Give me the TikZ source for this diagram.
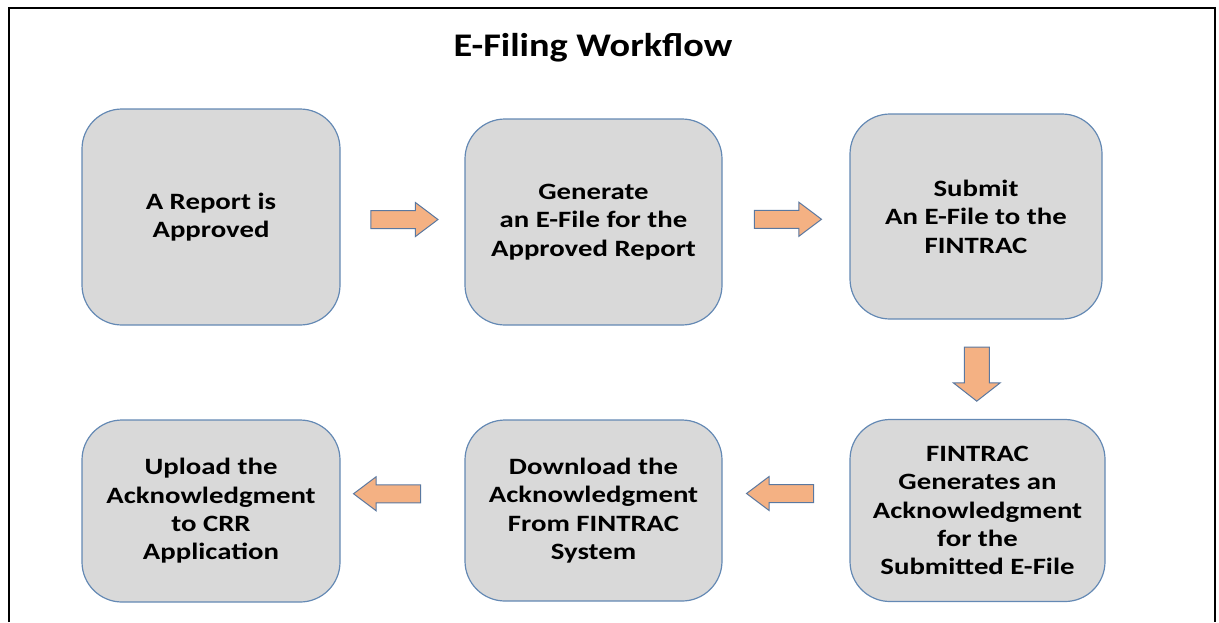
\documentclass[tikz,border=0pt]{standalone}
\usepackage{fontspec}
\setmainfont{Carlito}
\newfontfamily\boxfont[FakeStretch=1.23]{Carlito}
\newfontfamily\titlefont[FakeStretch=1.16]{Carlito}
\usetikzlibrary{calc,shapes.arrows}

\definecolor{boxgray}{RGB}{217,217,217}
\definecolor{boxblue}{RGB}{100,137,180}
\definecolor{arrowfill}{RGB}{244,177,131}
\definecolor{arrowline}{RGB}{90,120,160}

\tikzset{
  stepbox/.style={draw=boxblue,line width=0.6pt,fill=boxgray,rounded corners=20pt,
    align=center,font=\boxfont\fontsize{11.7}{14.2}\selectfont\bfseries,inner sep=0pt},
  flowarrow/.style={single arrow,draw=arrowline,line width=0.5pt,fill=arrowfill,
    minimum height=33.5pt,minimum width=0pt,inner xsep=0pt,inner ysep=4.25pt,
    single arrow head extend=4pt,single arrow tip angle=74,
    single arrow head indent=0pt}
}

\begin{document}
\begin{tikzpicture}[x=0.5pt,y=-0.5pt]
\useasboundingbox (0,0) rectangle (1219,622);
% frame
\draw[line width=1.3pt] (9,622) -- (9,8) -- (1215,8) -- (1215,622);
\node[font=\titlefont\fontsize{16.5}{20}\selectfont\bfseries] (title) at (593,48) {E-Filing Workflow};

% top row
\node[stepbox,minimum width=129pt,minimum height=108pt] (approved) at (211,217) {A Report is\\Approved};
\node[stepbox,minimum width=128.5pt,minimum height=103pt] (generate) at (593.5,222) {Generate\\an E-File for the\\Approved Report};
\node[stepbox,minimum width=126pt,minimum height=102.5pt] (submit) at (976,216.5) {Submit\\An E-File to the\\FINTRAC};

% bottom row
\node[stepbox,minimum width=127.5pt,minimum height=91pt] (ack) at (977.5,510.5) {FINTRAC\\Generates an\\Acknowledgment\\for the\\Submitted E-File};
\node[stepbox,minimum width=128.5pt,minimum height=90.5pt] (download) at (593.5,510.5) {Download the\\Acknowledgment\\From FINTRAC\\System};
\node[stepbox,minimum width=129pt,minimum height=91pt] (upload) at (211,511) {Upload the\\Acknowledgment\\to CRR\\Application};

% block arrows between the steps
\node[flowarrow,xshift=-2pt] (a1) at ($(approved.east)!0.5!(generate.west)$) {};
\node[flowarrow,xshift=-2pt] (a2) at ($(generate.east)!0.5!(submit.west)$) {};
\node[flowarrow,shape border rotate=270,minimum height=27pt,inner xsep=6pt,inner ysep=0pt,
  single arrow head extend=5.5pt,single arrow tip angle=104] (a3) at ($(submit.south)!0.5!(ack.north)$) {};
\node[flowarrow,shape border rotate=180,yshift=8.5pt] (a4) at ($(ack.west)!0.5!(download.east)$) {};
\node[flowarrow,shape border rotate=180,xshift=-4.75pt,yshift=8.5pt] (a5) at ($(download.west)!0.5!(upload.east)$) {};
\end{tikzpicture}
\end{document}
